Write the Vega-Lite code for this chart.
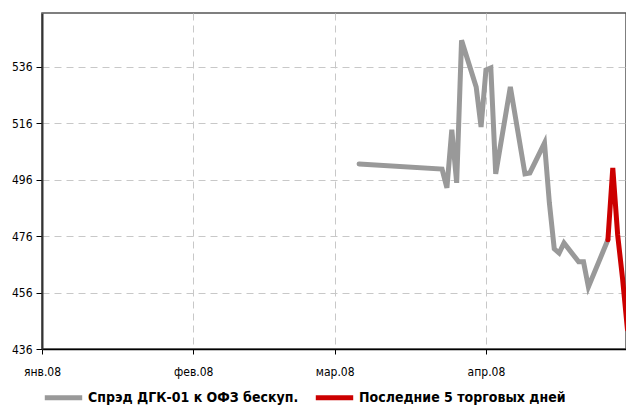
{
  "$schema": "https://vega.github.io/schema/vega-lite/v6.json",
  "width": 584,
  "height": 336,
  "autosize": {"type": "none"},
  "padding": {"left": 42, "top": 13, "right": 0, "bottom": 58},
  "background": "white",
  "config": {
    "view": {"stroke": "#555555", "strokeWidth": 1.5},
    "font": "Liberation Sans Narrow, DejaVu Sans Condensed, Liberation Sans"
  },
  "data": {
    "values": [
      {"date": "2008-03-06T00:00:00", "value": 501.6, "series": "Спрэд ДГК-01 к ОФЗ бескуп."},
      {"date": "2008-03-23T00:00:00", "value": 499.8, "series": "Спрэд ДГК-01 к ОФЗ бескуп."},
      {"date": "2008-03-24T00:00:00", "value": 493.1, "series": "Спрэд ДГК-01 к ОФЗ бескуп."},
      {"date": "2008-03-25T00:00:00", "value": 513.7, "series": "Спрэд ДГК-01 к ОФЗ бескуп."},
      {"date": "2008-03-26T00:00:00", "value": 494.9, "series": "Спрэд ДГК-01 к ОФЗ бескуп."},
      {"date": "2008-03-27T00:00:00", "value": 545.4, "series": "Спрэд ДГК-01 к ОФЗ бескуп."},
      {"date": "2008-03-30T00:00:00", "value": 528.9, "series": "Спрэд ДГК-01 к ОФЗ бескуп."},
      {"date": "2008-03-31T00:00:00", "value": 514.7, "series": "Спрэд ДГК-01 к ОФЗ бескуп."},
      {"date": "2008-04-01T00:00:00", "value": 534.9, "series": "Спрэд ДГК-01 к ОФЗ бескуп."},
      {"date": "2008-04-02T00:00:00", "value": 535.6, "series": "Спрэд ДГК-01 к ОФЗ бескуп."},
      {"date": "2008-04-03T00:00:00", "value": 498.1, "series": "Спрэд ДГК-01 к ОФЗ бескуп."},
      {"date": "2008-04-06T00:00:00", "value": 528.9, "series": "Спрэд ДГК-01 к ОФЗ бескуп."},
      {"date": "2008-04-09T00:00:00", "value": 498.1, "series": "Спрэд ДГК-01 к ОФЗ бескуп."},
      {"date": "2008-04-10T00:00:00", "value": 498.4, "series": "Спрэд ДГК-01 к ОФЗ бескуп."},
      {"date": "2008-04-13T00:00:00", "value": 509.0, "series": "Спрэд ДГК-01 к ОФЗ бескуп."},
      {"date": "2008-04-14T00:00:00", "value": 487.8, "series": "Спрэд ДГК-01 к ОФЗ бескуп."},
      {"date": "2008-04-15T00:00:00", "value": 471.5, "series": "Спрэд ДГК-01 к ОФЗ бескуп."},
      {"date": "2008-04-16T00:00:00", "value": 470.0, "series": "Спрэд ДГК-01 к ОФЗ бескуп."},
      {"date": "2008-04-17T00:00:00", "value": 473.6, "series": "Спрэд ДГК-01 к ОФЗ бескуп."},
      {"date": "2008-04-20T00:00:00", "value": 466.9, "series": "Спрэд ДГК-01 к ОФЗ бескуп."},
      {"date": "2008-04-21T00:00:00", "value": 466.9, "series": "Спрэд ДГК-01 к ОФЗ бескуп."},
      {"date": "2008-04-22T00:00:00", "value": 458.0, "series": "Спрэд ДГК-01 к ОФЗ бескуп."},
      {"date": "2008-04-26T00:00:00", "value": 474.7, "series": "Спрэд ДГК-01 к ОФЗ бескуп."},
      {"date": "2008-04-26T00:00:00", "value": 474.7, "series": "Последние 5 торговых дней"},
      {"date": "2008-04-27T00:00:00", "value": 500.2, "series": "Последние 5 торговых дней"},
      {"date": "2008-04-28T00:00:00", "value": 476.4, "series": "Последние 5 торговых дней"},
      {"date": "2008-04-29T00:00:00", "value": 461.0, "series": "Последние 5 торговых дней"},
      {"date": "2008-04-30T00:00:00", "value": 443.0, "series": "Последние 5 торговых дней"}
    ]
  },
  "mark": {"type": "line", "strokeWidth": 5, "clip": true, "strokeCap": "round"},
  "encoding": {
    "x": {
      "field": "date",
      "type": "temporal",
      "scale": {"domain": [{"year": 2008, "month": 1, "date": 1}, {"year": 2008, "month": 4, "date": 29, "hours": 17}]},
      "axis": {
        "title": null,
        "values": [
          {"year": 2008, "month": 1, "date": 1},
          {"year": 2008, "month": 2, "date": 1},
          {"year": 2008, "month": 3, "date": 1},
          {"year": 2008, "month": 4, "date": 1}
        ],
        "labelExpr": "['янв','фев','мар','апр','май','июн','июл','авг','сен','окт','ноя','дек'][month(datum.value)] + '.' + timeFormat(datum.value, '%y')",
        "labelFontSize": 12,
        "labelColor": "#000000",
        "labelPadding": 12,
        "labelAlign": "center",
        "domainColor": "#000000",
        "domainWidth": 1.5,
        "tickColor": "#000000",
        "tickSize": 5,
        "grid": true,
        "gridDash": [7, 5],
        "gridColor": "#c8c8c8",
        "gridWidth": 1
      }
    },
    "y": {
      "field": "value",
      "type": "quantitative",
      "scale": {"domain": [436, 555.1], "nice": false, "zero": false},
      "axis": {
        "title": null,
        "values": [436, 456, 476, 496, 516, 536],
        "labelFontSize": 12,
        "labelColor": "#000000",
        "labelPadding": 4,
        "domainColor": "#333333",
        "domainWidth": 2,
        "tickColor": "#000000",
        "tickSize": 6,
        "grid": true,
        "gridDash": [7, 5],
        "gridColor": "#c8c8c8",
        "gridWidth": 1
      }
    },
    "color": {
      "field": "series",
      "type": "nominal",
      "sort": ["Спрэд ДГК-01 к ОФЗ бескуп.", "Последние 5 торговых дней"],
      "scale": {"domain": ["Спрэд ДГК-01 к ОФЗ бескуп.", "Последние 5 торговых дней"], "range": ["#999999", "#cc0000"]},
      "legend": {
        "title": null,
        "orient": "bottom",
        "direction": "horizontal",
        "symbolType": "stroke",
        "symbolStrokeWidth": 5,
        "symbolSize": 1400,
        "labelFontSize": 14,
        "labelFontWeight": "bold",
        "labelColor": "#000000",
        "labelLimit": 400,
        "labelOffset": 3,
        "columnPadding": 6,
        "offset": -1
      }
    }
  }
}
